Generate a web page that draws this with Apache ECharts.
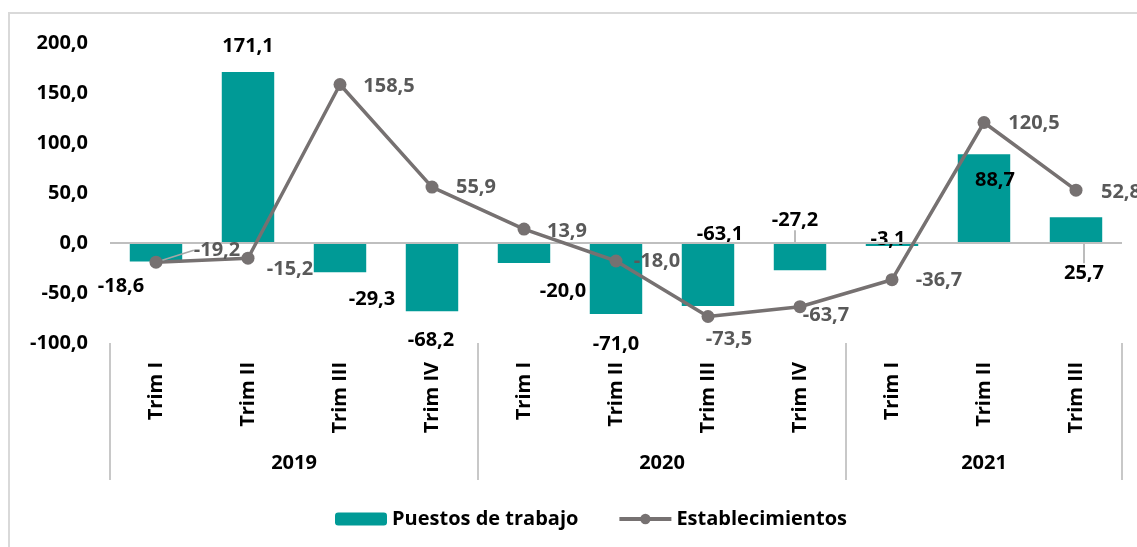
<!DOCTYPE html>
<html><head><meta charset="utf-8">
<script src="https://cdn.jsdelivr.net/npm/echarts@6/dist/echarts.min.js"></script>
<style>html,body{margin:0;padding:0;background:#fff}#c{width:1137px;height:547px}</style>
</head><body><div id="c"></div>
<script>
// ---- data ----
const categories = ['Trim I','Trim II','Trim III','Trim IV','Trim I','Trim II','Trim III','Trim IV','Trim I','Trim II','Trim III'];
const years = ['2019','2020','2021'];
const quartersPerYear = [4, 4, 3];
const puestos = [-18.6, 171.1, -29.3, -68.2, -20.0, -71.0, -63.1, -27.2, -3.1, 88.7, 25.7];
const establecimientos = [-19.2, -15.2, 158.5, 55.9, 13.9, -18.0, -73.5, -63.7, -36.7, 120.5, 52.8];
const yMin = -100, yMax = 200, yStep = 50;

// ---- label placement (pixel shifts of label centre from bar end / point) ----
const barShift = [[-35,25],[0,-26],[32,27],[-1,29],[39,28],[0,30],[12,-72],[-5,-50],[-4,-7],[11,26],[8,56]];
const lineShift = [[61,-12],[42,11],[49,2],[44,0],[43,2],[41,0],[21,23],[26,9],[47,1],[50,1],[45,2]];
const barLeader = [7, 10];
const lineLeader = [0];

const fmt = v => v.toFixed(1).replace('.', ',');
const FONT = '"Open Sans", "DejaVu Sans", sans-serif';
const LINE_COLOR = '#767171';

// year group geometry on a 0..N value scale
const total = quartersPerYear.reduce((a,b)=>a+b,0);
const bounds = [0]; quartersPerYear.forEach(q => bounds.push(bounds[bounds.length-1] + q));
const centers = quartersPerYear.map((q,i) => bounds[i] + q/2);

const chart = echarts.init(document.getElementById('c'), null, {renderer:'canvas'});
chart.setOption({
  animation: false,
  backgroundColor: '#ffffff',
  textStyle: {fontFamily: FONT},
  graphic: [{
    type: 'rect', silent: true, z: -10,
    shape: {x: 9, y: 13, width: 1300, height: 700},
    style: {fill: 'none', stroke: '#D9D9D9', lineWidth: 2}
  }],
  grid: {left: 110, right: 15, top: 43, bottom: 204, containLabel: false},
  legend: {
    left: 330, top: 504,
    itemWidth: 52, itemHeight: 13, itemGap: 39,
    textStyle: {fontFamily: FONT, fontSize: 20, fontWeight: 'bold', color: '#000'},
    data: [
      {name: 'Puestos de trabajo'},
      {name: 'Establecimientos', lineStyle: {width: 4, color: LINE_COLOR}, itemStyle: {color: LINE_COLOR}}
    ]
  },
  xAxis: [{
    type: 'category', data: categories, position: 'bottom',
    axisLine: {show: false, onZero: false}, axisTick: {show: false},
    axisLabel: {interval: 0, rotate: 90, margin: 19, fontFamily: FONT, fontSize: 20, fontWeight: 'bold', color: '#000'},
    splitLine: {show: false}
  }, {
    type: 'value', position: 'bottom', min: 0, max: total,
    axisLine: {show: false, onZero: false},
    axisTick: {show: true, customValues: bounds, length: 137, inside: false, lineStyle: {color: '#C8C8C8', width: 2}},
    axisLabel: {customValues: centers, margin: 110, fontFamily: FONT, fontSize: 20, fontWeight: 'bold', color: '#000',
      formatter: v => { const k = centers.findIndex(c => Math.abs(c - v) < 1e-6); return k >= 0 ? years[k] : ''; }},
    splitLine: {show: false}
  }],
  yAxis: {
    type: 'value', min: yMin, max: yMax, interval: yStep,
    axisLine: {show: false}, axisTick: {show: false}, splitLine: {show: false},
    axisLabel: {margin: 22, fontFamily: FONT, fontSize: 20, fontWeight: 'bold', color: '#000', formatter: fmt}
  },
  series: [{
    name: 'Puestos de trabajo', type: 'bar', xAxisIndex: 0, barWidth: '57%',
    itemStyle: {color: '#009A96'},
    data: puestos.map((v,i) => ({value: v, labelLine: {show: barLeader.includes(i)}})),
    label: {show: true, position: 'inside', formatter: p => fmt(p.value), fontFamily: FONT, fontSize: 20, fontWeight: 'bold', color: '#000'},
    labelLine: {show: false, lineStyle: {color: '#A6A6A6', width: 1.5}},
    labelLayout: p => {
      const i = p.dataIndex, r = p.rect, v = puestos[i];
      const endY = v >= 0 ? r.y : r.y + r.height;
      return {x: r.x + r.width/2 + barShift[i][0], y: endY + barShift[i][1], align: 'center', verticalAlign: 'middle'};
    },
    markLine: {silent: true, symbol: 'none', label: {show: false}, lineStyle: {color: '#BFBFBF', width: 2, type: 'solid'}, data: [{yAxis: 0}]}
  }, {
    name: 'Establecimientos', type: 'line', xAxisIndex: 0, z: 5,
    color: LINE_COLOR,
    lineStyle: {color: LINE_COLOR, width: 3.5},
    itemStyle: {color: LINE_COLOR},
    symbol: 'circle', symbolSize: 13,
    data: establecimientos.map((v,i) => ({value: v, labelLine: {show: lineLeader.includes(i)}})),
    label: {show: true, position: 'inside', formatter: p => fmt(p.value), fontFamily: FONT, fontSize: 20, fontWeight: 'bold', color: '#595959'},
    labelLine: {show: false, lineStyle: {color: '#A6A6A6', width: 1.5}},
    labelLayout: p => {
      const i = p.dataIndex, r = p.rect;
      return {x: r.x + r.width/2 + lineShift[i][0], y: r.y + r.height/2 + lineShift[i][1], align: 'center', verticalAlign: 'middle'};
    }
  }]
});
</script>
</body></html>
